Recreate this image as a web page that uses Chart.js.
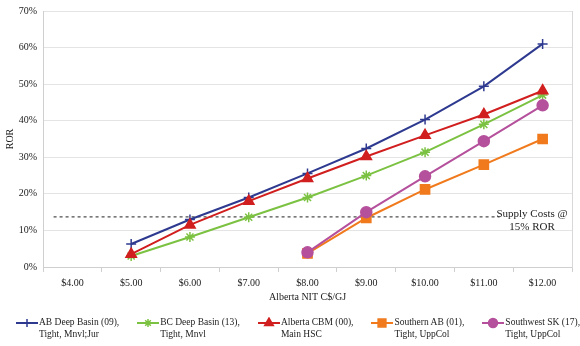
<!DOCTYPE html>
<html>
<head>
<meta charset="utf-8">
<script src="https://cdn.jsdelivr.net/npm/chart.js@4.4.1/dist/chart.umd.min.js"></script>
<style>
  html, body { margin: 0; padding: 0; background: #fff; }
  #wrap { position: relative; width: 580px; height: 346px; }
  #legend { position: absolute; left: 16px; top: 317px; display: flex; gap: 18px;
            font: 9.5px/11.5px "Liberation Serif", serif; color: #222; }
  .leg-item { display: flex; align-items: flex-start; }
  .leg-item canvas { margin-right: 1px; }
</style>
</head>
<body>
<div id="wrap">
  <canvas id="rorChart" width="580" height="346"></canvas>
  <div id="legend"></div>
</div>
<script>
const priceLabels = ['$4.00', '$5.00', '$6.00', '$7.00', '$8.00', '$9.00', '$10.00', '$11.00', '$12.00'];

const abDeepBasin = [null, 6.3, 13, 19, 25.6, 32.4, 40.3, 49.4, 61];
const bcDeepBasin = [null, 3, 8.2, 13.6, 19, 25, 31.4, 39, 47];
const albertaCbm = [null, 3.5, 11.5, 18, 24.2, 30.2, 36, 41.7, 48.2];
const southernAb = [null, null, null, null, 3.7, 13.4, 21.2, 28, 35];
const southwestSk = [null, null, null, null, 4, 15, 24.8, 34.4, 44.2];

// supply cost reference line (index positions on the price axis)
const supplyCost = 13.7;
const supplyFrom = -0.32;
const supplyTo = 7.27;
const supplyText = ['Supply Costs @', '15% ROR'];

const seriesNames = [
    ['AB Deep Basin (09),', 'Tight, Mnvl;Jur'],
    ['BC Deep Basin (13),', 'Tight, Mnvl'],
    ['Alberta CBM (00),', 'Main HSC'],
    ['Southern AB (01),', 'Tight, UppCol'],
    ['Southwest SK (17),', 'Tight, UppCol']
];
const seriesColors = ['#2e3a8f', '#7cc242', '#d11f1f', '#f07a1c', '#b5509c'];
const seriesMarkers = ['cross', 'star', 'triangle', 'rect', 'circle'];
const markerSizes = [5, 5, 6, 6.5, 5.5];

const font = 'Liberation Serif';

function makeIcon(i){
    const c = document.createElement('canvas');
    c.width = 22; c.height = 12;
    const g = c.getContext('2d');
    g.strokeStyle = seriesColors[i];
    g.fillStyle = seriesColors[i];
    g.lineWidth = 2;
    g.beginPath(); g.moveTo(0, 6); g.lineTo(22, 6); g.stroke();
    g.lineWidth = 1.5;
    Chart.helpers.drawPoint(g, {pointStyle: seriesMarkers[i], radius: markerSizes[i] - 1, borderWidth: 1.5, rotation: 0}, 11, 6);
    return c;
}

// legend in html, two-line labels like the original
const legendBox = document.getElementById('legend');
seriesNames.forEach((name, i) => {
    const item = document.createElement('div');
    item.className = 'leg-item';
    item.appendChild(makeIcon(i));
    const txt = document.createElement('div');
    txt.innerHTML = name.join('<br>');
    item.appendChild(txt);
    legendBox.appendChild(item);
});

const allSeries = [abDeepBasin, bcDeepBasin, albertaCbm, southernAb, southwestSk];
const datasets = allSeries.map((vals, i) => ({
    label: seriesNames[i].join(' '),
    data: vals,
    borderColor: seriesColors[i],
    backgroundColor: seriesColors[i],
    borderWidth: 2,
    pointStyle: seriesMarkers[i],
    pointRadius: markerSizes[i],
    pointBorderWidth: 1.5,
    pointHoverRadius: markerSizes[i],
    tension: 0,
    order: 10 - i
}));

datasets.push({
    label: 'supply',
    data: [{x: supplyFrom, y: supplyCost}, {x: supplyTo, y: supplyCost}],
    xAxisID: 'xs',
    borderColor: '#222',
    borderWidth: 1,
    borderDash: [3, 3],
    pointRadius: 0,
    order: 20
});

const supplyLabel = {
    id: 'supplyLabel',
    afterDatasetsDraw(chart){
        const ctx = chart.ctx;
        const xs = chart.scales.xs, y = chart.scales.y;
        ctx.save();
        ctx.fillStyle = '#222';
        ctx.font = '11px "' + font + '"';
        ctx.textAlign = 'center';
        ctx.textBaseline = 'middle';
        ctx.fillText(supplyText[0], xs.getPixelForValue(7.82), y.getPixelForValue(14.5));
        ctx.fillText(supplyText[1], xs.getPixelForValue(7.82), y.getPixelForValue(10.9));
        ctx.restore();
    }
};

new Chart(document.getElementById('rorChart'), {
    type: 'line',
    data: { labels: priceLabels, datasets: datasets },
    plugins: [supplyLabel],
    options: {
        responsive: false,
        animation: false,
        spanGaps: false,
        layout: { padding: { top: 5, right: 8, left: 0, bottom: 43 } },
        plugins: {
            tooltip: { enabled: false },
            legend: { display: false }
        },
        scales: {
            x: {
                type: 'category',
                offset: true,
                grid: { offset: true, drawOnChartArea: false, drawTicks: true, tickLength: 5, color: '#cfcfcf' },
                border: { color: '#cfcfcf' },
                ticks: { color: '#222', font: { family: font, size: 10 }, padding: 5, maxRotation: 0, autoSkip: false },
                title: { display: true, text: 'Alberta NIT C$/GJ', color: '#222', font: { family: font, size: 10 }, padding: { top: 2, bottom: 0 } },
                afterFit(scale){ scale.height = 36; }
            },
            xs: {
                type: 'linear',
                display: false,
                min: -0.5,
                max: 8.5
            },
            y: {
                min: 0,
                max: 70,
                ticks: { stepSize: 10, color: '#222', padding: 6, font: { family: font, size: 10, lineHeight: 1 }, callback: (v) => v + '%' },
                grid: { color: '#e4e4e4', drawTicks: false },
                border: { color: '#cfcfcf' },
                title: { display: true, text: 'ROR', color: '#222', font: { family: font, size: 10 }, padding: { top: 4, bottom: 0 } },
                afterFit(scale){ scale.width = 43; }
            },
            yr: {
                position: 'right',
                min: 0,
                max: 70,
                ticks: { display: false },
                grid: { display: false, drawTicks: false },
                border: { display: true, color: '#d8d8d8' },
                afterFit(scale){ scale.width = 0; }
            }
        }
    }
});
</script>
</body>
</html>
